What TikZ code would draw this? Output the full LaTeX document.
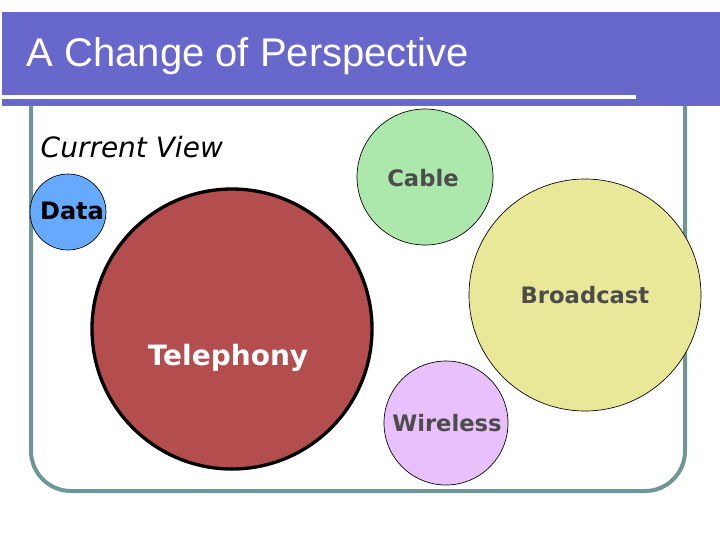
\documentclass[tikz,border=0pt]{standalone}
\usepackage{fontspec}
\setmainfont{DejaVu Sans}
\newfontfamily\titlefont{Liberation Sans}
\begin{document}
\begin{tikzpicture}[x=0.75pt,y=-0.75pt,
  bub/.style={circle,draw=black,line width=0.5pt,inner sep=0pt},
  lbl/.style={font=\bfseries\fontsize{17}{20}\selectfont,text=black!70}]
\useasboundingbox (0,0) rectangle (720,540);
\fill[white] (0,0) rectangle (720,540);
\definecolor{bar}{RGB}{103,103,204}
\definecolor{frame}{RGB}{110,150,150}
\fill[bar] (2,12) rectangle (720,106);
\fill[white] (0,95) rectangle (636,99);
\draw[frame,line width=3pt,rounded corners=30] (31,106) -- (31,491) -- (685,491) -- (685,106);
\node[text=white,font=\titlefont\fontsize{30}{34}\selectfont,anchor=west] (title) at (22,56) {A Change of Perspective};
\node[anchor=west,font=\itshape\fontsize{21}{24}\selectfont] (cv) at (36,147) {Current View};
\node[bub,fill={rgb,255:red,102;green,170;blue,255},minimum size=57pt] (data) at (68,212) {};
\node[bub,fill={rgb,255:red,180;green,78;blue,78},line width=2.5pt,minimum size=210pt] (tel) at (232,329) {};
\node[bub,fill={rgb,255:red,172;green,232;blue,172},minimum size=102pt] (cable) at (425,177) {};
\node[bub,fill={rgb,255:red,232;green,232;blue,152},minimum size=174pt] (bc) at (585,295) {};
\node[bub,fill={rgb,255:red,232;green,192;blue,252},minimum size=93pt] (wl) at (446,423) {};
\node[font=\bfseries\fontsize{18}{20}\selectfont] (dt) at (72,211) {Data};
\node[lbl] (ct) at (423,178) {Cable};
\node[lbl] (bt) at (585,295) {Broadcast};
\node[lbl] (wt) at (447,423) {Wireless};
\node[font=\bfseries\fontsize{21}{24}\selectfont,text=white] (tt) at (228,358) {Telephony};
\end{tikzpicture}
\end{document}
